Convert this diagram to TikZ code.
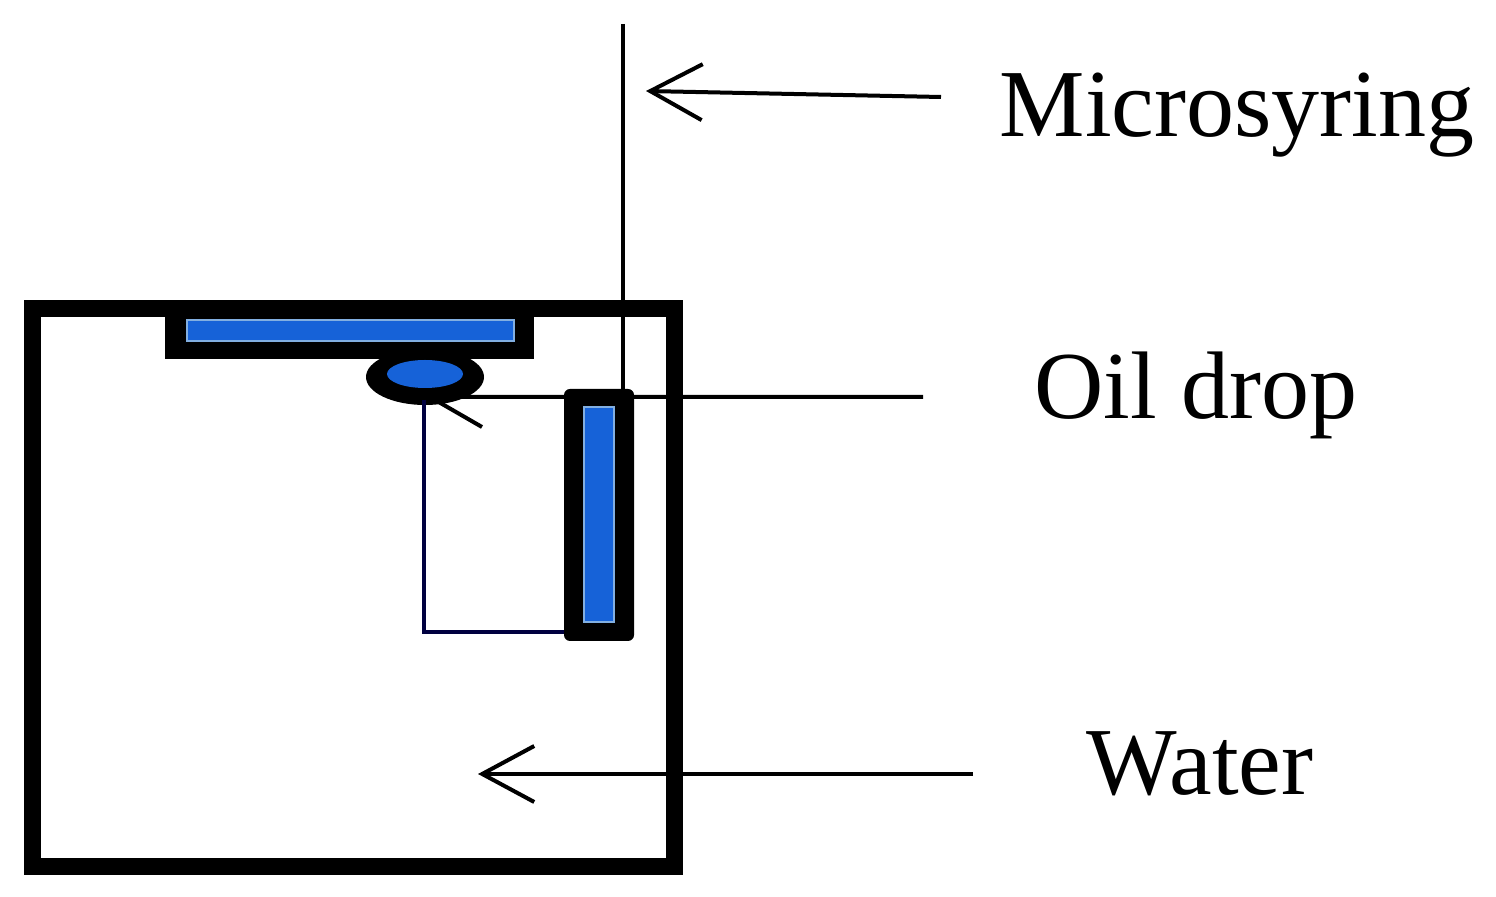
\documentclass[tikz,border=0pt]{standalone}
\usepackage{fontspec}
\setmainfont{Liberation Serif}
\usetikzlibrary{arrows.meta}
\definecolor{plateblue}{RGB}{22,98,216}
\definecolor{rimblue}{RGB}{130,175,225}
\tikzset{
 blk/.style={fill=black,draw=none},
 blu/.style={fill=plateblue,draw=rimblue,line width=0.8pt},
 lead/.style={line width=2pt,black},
 arr/.style={lead,-{Straight Barb[length=26pt,width=28pt,line width=2pt]}},
 lab/.style={font=\fontsize{48pt}{50pt}\selectfont,inner sep=0pt,anchor=base,text=black}
}
\begin{document}
\begin{tikzpicture}[x=0.5pt,y=-0.5pt]
\useasboundingbox (0,0) rectangle (1496,897);
% tank
\draw[line width=8.5pt,line join=miter] (32,309) rectangle (674,867);
\draw[line width=2pt] (623,24) -- (623,390);
% top plate
\fill[blk] (165,312) rectangle (534,359);
\path[blu] (187,320) rectangle (514,341);
% drop
\fill[black] (425,377) ellipse (59 and 28);
\fill[plateblue] (425,374) ellipse (38 and 14);
% side plate
\fill[blk,rounded corners=3pt] (564,389) rectangle (634,641);
\path[blu] (584,407) rectangle (614,622);
% wire
\coordinate (w1) at (424,400); \coordinate (w2) at (424,632); \coordinate (w3) at (564,632);
\draw[line width=1.6pt,black!75!blue] (w1) -- (w2) -- (w3);
% labels
\node[lab] (m) at (1237,137) {Microsyring};
\node[lab] (o) at (1196,419) {Oil drop};
\node[lab] (w) at (1200,795) {Water};
\coordinate (m1) at (941,97); \coordinate (m2) at (646,91);
\coordinate (o1) at (923,397); \coordinate (o2) at (430,397);
\coordinate (o3) at (482,427);
\coordinate (w1b) at (973,774); \coordinate (w2b) at (478,774);
\draw[arr] (m1) -- (m2);
\draw[lead] (o1) -- (o2) -- (o3);
\draw[arr] (w1b) -- (w2b);
\end{tikzpicture}
\end{document}
